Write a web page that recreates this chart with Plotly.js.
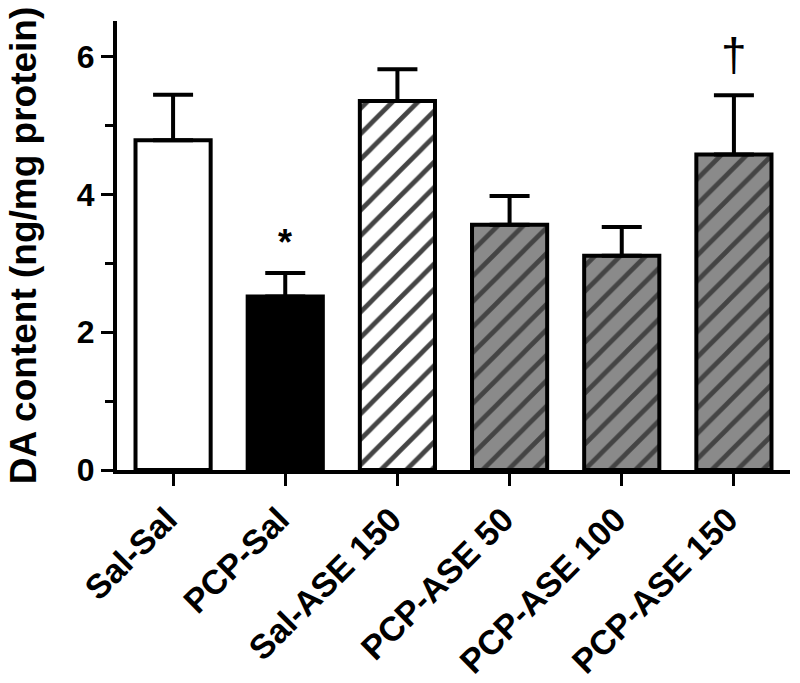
<!DOCTYPE html>
<html>
<head>
<meta charset="utf-8">
<script src="https://cdn.plot.ly/plotly-3.0.1.min.js"></script>
<style>
  html, body { margin: 0; padding: 0; background: #fff; }
  #chart { width: 800px; height: 683px; }
</style>
</head>
<body>
<div id="chart"></div>
<script>
// DA content per treatment group (mean + SEM)
const groups = ['Sal-Sal', 'PCP-Sal', 'Sal-ASE 150', 'PCP-ASE 50', 'PCP-ASE 100', 'PCP-ASE 150'];
const means = [4.79, 2.52, 5.36, 3.56, 3.11, 4.58];
const sems = [0.66, 0.34, 0.46, 0.42, 0.42, 0.86];
const sigMarks = ['', '*', '', '', '', '†'];

// bar fills: plain, solid or hatched
const fills = ['#ffffff', '#000000', '#ffffff', '#8a8a8a', '#8a8a8a', '#8a8a8a'];
const hatch = ['', '', '/', '/', '/', '/'];

const FONT = 'Arial, "Liberation Sans", Helvetica, sans-serif';

const trace = {
    type: 'bar',
    x: groups,
    y: means,
    width: 0.67,
    marker: {
        color: fills,
        line: { color: '#000', width: 4 },
        pattern: {
            shape: hatch,
            fgcolor: '#000',
            fgopacity: 1,
            size: 18,
            solidity: 0.26,
            fillmode: 'overlay'
        }
    },
    error_y: {
        type: 'data',
        symmetric: false,
        array: sems,
        arrayminus: means.map(() => 0),
        color: '#000',
        thickness: 4,
        width: 20
    },
    hoverinfo: 'x+y'
};

// significance markers sit just above the error caps
const annotations = [];
sigMarks.forEach((m, i) => {
    if (!m) return;
    annotations.push({
        x: groups[i],
        y: means[i] + sems[i],
        text: m,
        showarrow: false,
        yanchor: 'bottom',
        yshift: m === '*' ? 8 : 12,
        font: { family: FONT, size: m === '*' ? 36 : 46, color: '#000', weight: m === '*' ? 700 : 400 }
    });
});

const layout = {
    width: 800,
    height: 683,
    margin: { l: 117, r: 10, t: 21, b: 213 },
    paper_bgcolor: '#fff',
    plot_bgcolor: '#fff',
    showlegend: false,
    font: { family: FONT, color: '#000' },
    xaxis: {
        type: 'category',
        range: [-0.5, 5.5],
        showline: true,
        linecolor: '#000',
        linewidth: 4,
        showgrid: false,
        zeroline: false,
        ticks: 'outside',
        ticklen: 12,
        tickwidth: 3,
        tickcolor: '#000',
        tickangle: -45,
        ticklabelshift: -6,
        tickfont: { family: FONT, size: 34, weight: 700, color: '#000' }
    },
    yaxis: {
        range: [0, 6.52],
        showline: true,
        linecolor: '#000',
        linewidth: 4,
        showgrid: false,
        zeroline: false,
        dtick: 2,
        ticks: 'outside',
        ticklen: 12,
        tickwidth: 3,
        tickcolor: '#000',
        tickfont: { family: FONT, size: 32, weight: 700, color: '#000' },
        minor: { dtick: 1, ticks: 'outside', ticklen: 8, tickwidth: 3, tickcolor: '#000', showgrid: false },
        title: {
            text: 'DA content (ng/mg protein)',
            font: { family: FONT, size: 37, weight: 700, color: '#000' },
            standoff: 30
        }
    },
    annotations: annotations
};

Plotly.newPlot('chart', [trace], layout, { displayModeBar: false, staticPlot: true });
</script>
</body>
</html>
